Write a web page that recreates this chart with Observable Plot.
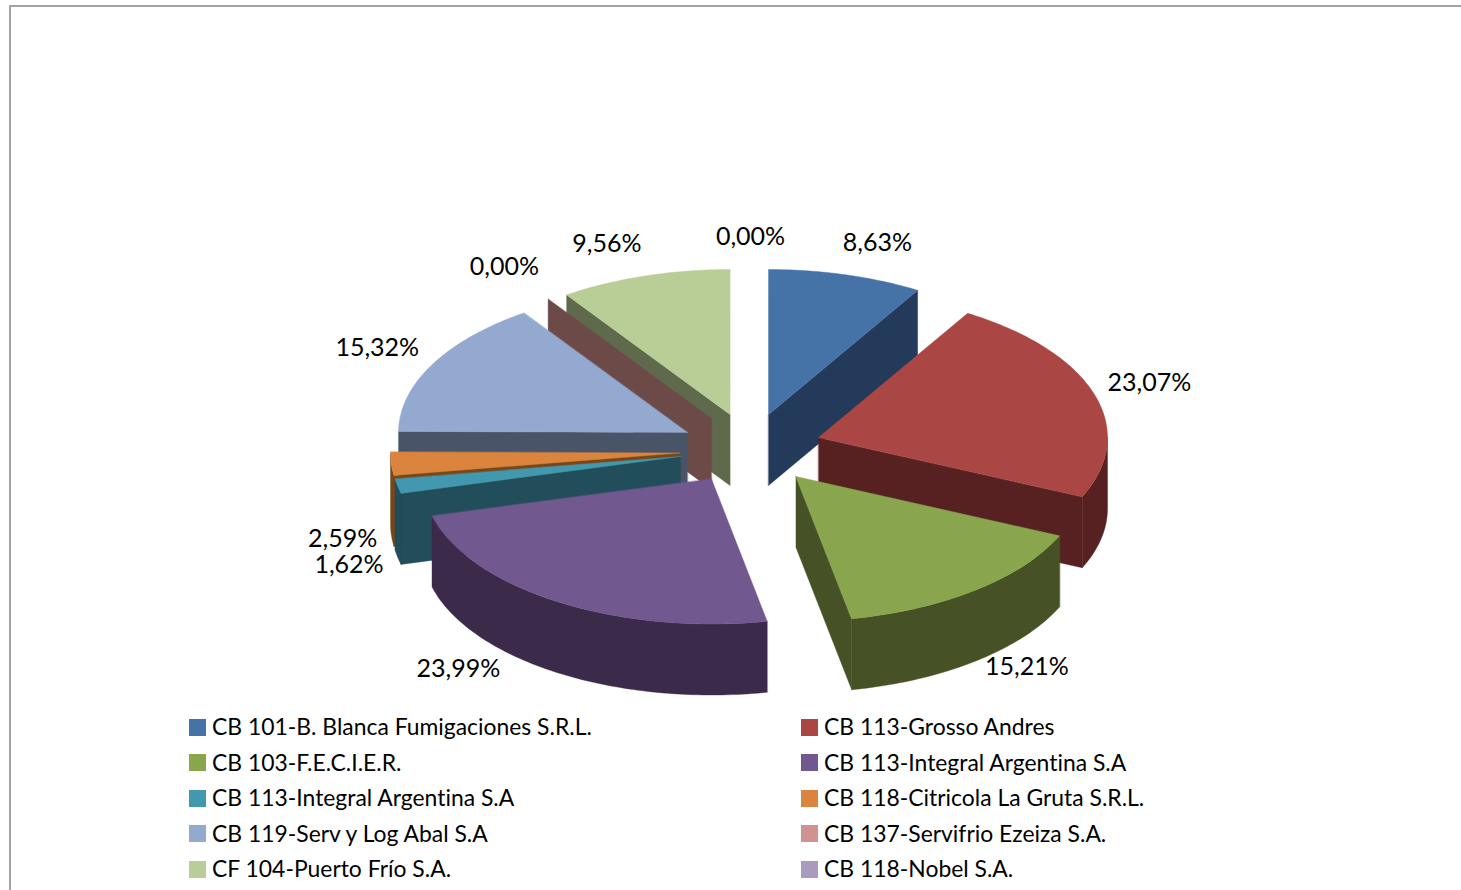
<!DOCTYPE html>
<html lang="es">
<head>
<meta charset="utf-8">
<script src="https://cdn.jsdelivr.net/npm/d3@7"></script>
<script src="https://cdn.jsdelivr.net/npm/@observablehq/plot@0.6"></script>
<style>
  html, body { margin: 0; padding: 0; background: #fff; overflow: hidden; width: 1461px; height: 890px; }
  #frame { position: absolute; left: 9px; top: 5px; right: 0; bottom: 0; border-left: 2px solid #a3a3a3; border-top: 2px solid #a3a3a3; }
  #chart { position: absolute; left: 0; top: 0; }
  #chart svg { display: block; background: transparent; font-variant-ligatures: none; }
  #legend { position: absolute; left: 189px; top: 709.5px; display: grid; grid-template-columns: 612px 612px; grid-auto-rows: 35.5px;
            font: 22.9px Lato, sans-serif; font-variant-ligatures: none; color: #000; }
  .item { display: flex; align-items: center; white-space: nowrap; }
  .item .name { position: relative; top: -1px; }
  .swatch { width: 17px; height: 17px; margin-right: 6px; flex: none; }
</style>
</head>
<body>
<div id="frame"></div>
<div id="chart"></div>
<div id="legend"></div>
<script>
// ---- data ----
const names = [
  "CB 101-B. Blanca Fumigaciones S.R.L.",
  "CB 113-Grosso Andres",
  "CB 103-F.E.C.I.E.R.",
  "CB 113-Integral Argentina S.A",
  "CB 113-Integral Argentina S.A",
  "CB 118-Citricola La Gruta S.R.L.",
  "CB 119-Serv y Log Abal S.A",
  "CB 137-Servifrio Ezeiza S.A.",
  "CF 104-Puerto Frío S.A.",
  "CB 118-Nobel S.A."
];
const values = [8.63, 23.07, 15.21, 23.99, 1.62, 2.59, 15.32, 0.00, 9.56, 0.00];

// ---- styles ----
const topColors  = ["#4572a7", "#aa4643", "#89a54e", "#71588f", "#4198af", "#db843d", "#93a9cf", "#d19392", "#b9cd96", "#a99bbd"];
const wallColors = ["#243a5a", "#562120", "#465226", "#3b2a4a", "#224e5b", "#774719", "#4a5468", "#6c4a48", "#5f6a4c", "#574e63"];

// ---- layout of the exploded pie ----
const rx = 289, ry = 145, depth = 71;
const apexX = [768, 818, 795.5, 711, 680, 679, 687, 711, 729.5, 749];
const apexY = [414, 437, 476, 478.5, 456, 452.5, 432, 418, 414, 414];
const labelK = 1.2;
const nudgeX = [16, 0, 15, -69, 8, 9, -4, -11, -20.5, 1];
const nudgeY = [-4, -2, 54, 43, 72.5, 73.5, -3, -8, -4, -4];
const drawOrder = [9, 8, 7, 6, 5, 4, 3, 0, 1, 2];

const total = d3.sum(values);
const cum = d3.cumsum(values);
const slices = values.map((v, i) => ({
  i, a0: (i ? cum[i - 1] : 0) / total * 360, a1: cum[i] / total * 360
}));

const rad = (a) => a * Math.PI / 180;
const px = (s, a) => apexX[s.i] + rx * Math.sin(rad(a));
const py = (s, a) => apexY[s.i] - ry * Math.cos(rad(a));

const arcPts = (s, a, b) => {
  const n = Math.max(2, Math.ceil(Math.abs(b - a)));
  return d3.range(n + 1).map((k) => {
    const t = a + (b - a) * k / n;
    return [px(s, t), py(s, t)];
  });
};

const rows = [];
const addFace = (id, color, pts) => pts.forEach(([x, y]) => rows.push({ face: id, color, x, y }));

for (const idx of drawOrder) {
  const s = slices[idx];
  const wall = wallColors[idx], top = topColors[idx];
  const ax = apexX[idx], ay = apexY[idx];
  const radial = (a) => [[ax, ay], [px(s, a), py(s, a)], [px(s, a), py(s, a) + depth], [ax, ay + depth]];
  // radial walls that face the viewer
  if (s.a0 > 180 && s.a0 < 359.9) addFace(idx + "-w0", wall, radial(s.a0));
  if (s.a1 > 0 && s.a1 < 180) addFace(idx + "-w1", wall, radial(s.a1));
  // outer rim on the near half
  const lo = Math.max(s.a0, 90), hi = Math.min(s.a1, 270);
  if (hi > lo) {
    const arc = arcPts(s, lo, hi);
    addFace(idx + "-rim", wall, [...arc, ...arc.slice().reverse().map(([x, y]) => [x, y + depth])]);
  }
  // top face
  if (values[idx] > 0) addFace(idx + "-top", top, [[ax, ay], ...arcPts(s, s.a0, s.a1)]);
}

const fmt = (v) => v.toFixed(2).replace(".", ",") + "%";
const labels = slices.map((s) => {
  const mid = (s.a0 + s.a1) / 2;
  return {
    text: fmt(values[s.i]),
    x: apexX[s.i] + labelK * rx * Math.sin(rad(mid)) + nudgeX[s.i],
    y: apexY[s.i] - labelK * ry * Math.cos(rad(mid)) + nudgeY[s.i]
  };
});

const W = 1461, H = 709;
const chart = Plot.plot({
  width: W, height: H,
  marginLeft: 0, marginRight: 0, marginTop: 0, marginBottom: 0,
  x: { domain: [0, W], range: [0, W], axis: null },
  y: { domain: [0, H], range: [0, H], axis: null },
  color: { type: "identity" },
  style: { background: "transparent", overflow: "visible" },
  marks: [
    Plot.line(rows, { x: "x", y: "y", z: "face", fill: "color", stroke: "color", strokeWidth: 0.4, curve: "linear-closed" }),
    Plot.text(labels, { x: "x", y: "y", text: "text", fontFamily: "Lato, sans-serif", fontSize: 25, fill: "#000", textAnchor: "middle" })
  ]
});
document.getElementById("chart").appendChild(chart);

const legend = document.getElementById("legend");
names.forEach((n, i) => {
  const el = document.createElement("div");
  el.className = "item";
  const sw = document.createElement("span");
  sw.className = "swatch";
  sw.style.background = topColors[i];
  const tx = document.createElement("span");
  tx.className = "name";
  tx.textContent = n;
  el.append(sw, tx);
  legend.appendChild(el);
});
</script>
</body>
</html>
